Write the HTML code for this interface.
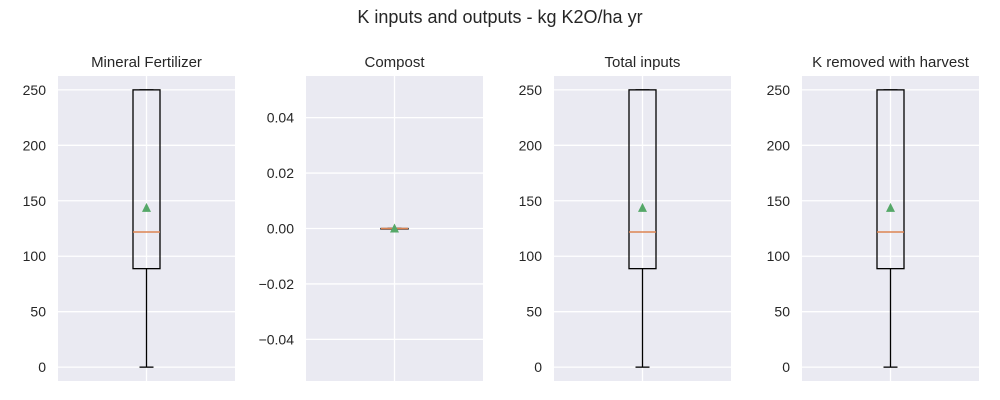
<!DOCTYPE html>
<html><head><meta charset="utf-8"><style>
body{margin:0;background:#fff;}
svg{display:block;font-family:"Liberation Sans","DejaVu Sans",sans-serif;}
</style></head><body>
<svg id="c" width="1000" height="400" xmlns="http://www.w3.org/2000/svg">
<text x="500" y="23" text-anchor="middle" font-size="18" fill="#262626">K inputs and outputs - kg K2O/ha yr</text>
</svg>
<script>
const panelTitles = ["Mineral Fertilizer","Compost","Total inputs","K removed with harvest"];
const mins = [0,0,0,0];
const q1s = [88.8,0,88.8,88.8];
const medians = [121.9,0,121.9,121.9];
const q3s = [250,0,250,250];
const maxs = [250,0,250,250];
const means = [143.6,0,143.6,143.6];
const yDomains = [[-12.5,262.5],[-0.055,0.055],[-12.5,262.5],[-12.5,262.5]];
const yTicks = [[0,50,100,150,200,250],[-0.04,-0.02,0,0.02,0.04],[0,50,100,150,200,250],[0,50,100,150,200,250]];
const tickFmt = [v=>String(v), v=>(v<0?"\u2212":"")+Math.abs(v).toFixed(2), v=>String(v), v=>String(v)];

const svgEl = document.getElementById('c');
const NS = "http://www.w3.org/2000/svg";
function mk(tag, attrs, parent){const e=document.createElementNS(NS,tag);for(const k in attrs)e.setAttribute(k,attrs[k]);(parent||svgEl).appendChild(e);return e;}
const lefts=[58,306,554,802], W=177, plotTop=76, plotBottom=381;
panelTitles.forEach((t,i)=>{
  const x0=lefts[i], cx=x0+W/2;
  const [d0,d1]=yDomains[i];
  const y=v=>plotBottom-(v-d0)/(d1-d0)*(plotBottom-plotTop);
  const g=mk('g',{});
  
  
  const bg=mk('rect',{x:x0,y:plotTop,width:W,height:plotBottom-plotTop,fill:'#eaeaf2'},g);
  
  
  yTicks[i].forEach(v=>{
    const gl=mk('line',{x1:x0,x2:x0+W,y1:y(v),y2:y(v),stroke:'#fff','stroke-width':1.3},g);
    
    
    const tl=mk('text',{x:x0-12,y:y(v)+5,'text-anchor':'end','font-size':14,fill:'#262626'},g);
    tl.textContent=tickFmt[i](v);
    
    
  });
  const vg=mk('line',{x1:cx,x2:cx,y1:plotTop,y2:plotBottom,stroke:'#fff','stroke-width':1.3},g);
  
  
  const tt=mk('text',{x:cx,y:67,'text-anchor':'middle','font-size':15,fill:'#262626'},g);
  tt.textContent=t;
  
  
  const bw=27,cw=14;
  const wl=mk('line',{x1:cx,x2:cx,y1:y(mins[i]),y2:y(q1s[i]),stroke:'#000','stroke-width':1.3},g);
  
  
  const wu=mk('line',{x1:cx,x2:cx,y1:y(q3s[i]),y2:y(maxs[i]),stroke:'#000','stroke-width':1.3},g);
  
  
  const c1=mk('line',{x1:cx-cw/2,x2:cx+cw/2,y1:y(mins[i]),y2:y(mins[i]),stroke:'#000','stroke-width':1.3},g);
  
  
  const c2=mk('line',{x1:cx-cw/2,x2:cx+cw/2,y1:y(maxs[i]),y2:y(maxs[i]),stroke:'#000','stroke-width':1.3},g);
  
  
  const bx=mk('rect',{x:cx-bw/2,y:y(q3s[i]),width:bw,height:Math.max(y(q1s[i])-y(q3s[i]),0.5),fill:'none',stroke:'#000','stroke-width':1.3},g);
  
  
  const md=mk('line',{x1:cx-bw/2,x2:cx+bw/2,y1:y(medians[i]),y2:y(medians[i]),stroke:'#dd8452','stroke-width':1.5},g);
  
  
  const my=y(means[i]);
  const mm=mk('polygon',{points:`${cx},${my-5} ${cx-4.5},${my+4} ${cx+4.5},${my+4}`,fill:'#55a868'},g);
  
  
});
</script>
</body></html>
